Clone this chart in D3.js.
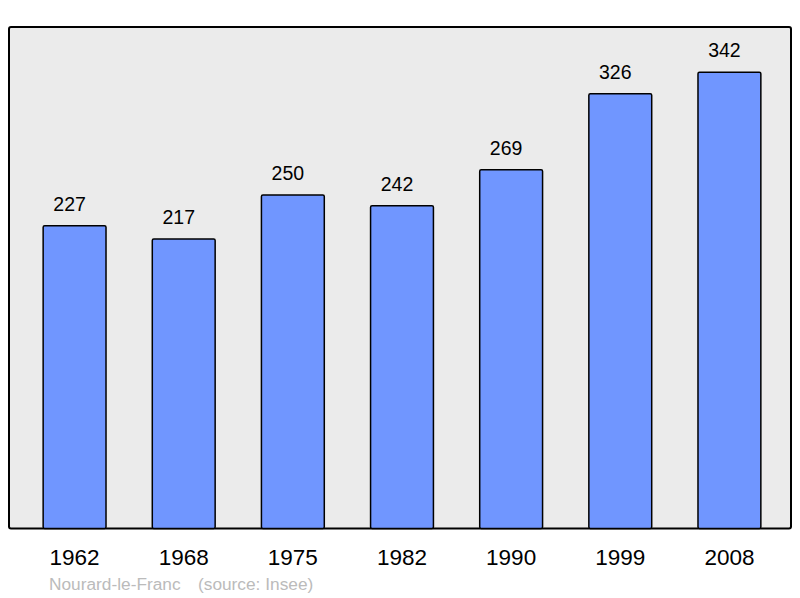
<!DOCTYPE html>
<html>
<head>
<meta charset="utf-8">
<script src="https://cdn.jsdelivr.net/npm/d3@7"></script>
<style>
  body { margin: 0; background: #fff; }
  text { font-family: "Liberation Sans", Arial, sans-serif; }
</style>
</head>
<body>
<div id="container"></div>
<script>
// population by census year
let years = ['1962', '1968', '1975', '1982', '1990', '1999', '2008'];
let population = [227, 217, 250, 242, 269, 326, 342];
let commune = 'Nourard-le-Franc';
let source = '(source: Insee)';

let width = 800;
let height = 598;

let data = years.map((y, i) => ({ year: y, value: population[i] }));

const svg = d3
  .select('#container')
  .append('svg')
  .attr('width', width)
  .attr('height', height);

// frame
svg
  .append('rect')
  .attr('x', 9)
  .attr('y', 27)
  .attr('width', 782)
  .attr('height', 501.5)
  .attr('rx', 2)
  .attr('fill', '#ebebeb')
  .attr('stroke', '#000')
  .attr('stroke-width', 2);

let xScale = d3
  .scaleBand()
  .domain(years)
  .range([11.5, 792.5])
  .paddingInner(0.424)
  .paddingOuter(0.29);

let yScale = d3.scaleLinear().domain([0, 376]).range([528.5, 27]);

// bars
svg
  .selectAll('.bar')
  .data(data)
  .enter()
  .append('rect')
  .attr('class', 'bar')
  .attr('x', d => xScale(d.year))
  .attr('y', d => yScale(d.value))
  .attr('width', xScale.bandwidth())
  .attr('height', d => yScale(0) - yScale(d.value))
  .attr('rx', 1.5)
  .attr('fill', '#7096ff')
  .attr('stroke', '#000')
  .attr('stroke-width', 1.5);

// value labels
svg
  .selectAll('.val')
  .data(data)
  .enter()
  .append('text')
  .attr('class', 'val')
  .attr('x', d => xScale(d.year) + xScale.bandwidth() / 2 - 5)
  .attr('y', d => yScale(d.value) - 15)
  .attr('text-anchor', 'middle')
  .attr('font-size', 19.5)
  .attr('fill', '#000')
  .text(d => d.value);

// year labels
svg
  .selectAll('.year')
  .data(data)
  .enter()
  .append('text')
  .attr('class', 'year')
  .attr('x', d => xScale(d.year) + xScale.bandwidth() / 2)
  .attr('y', 565)
  .attr('text-anchor', 'middle')
  .attr('font-size', 22.5)
  .attr('fill', '#000')
  .text(d => d.year);

// footer
svg
  .append('text')
  .attr('x', 49)
  .attr('y', 590)
  .attr('font-size', 17.3)
  .attr('fill', '#bbbbbb')
  .text(commune);

svg
  .append('text')
  .attr('x', 198)
  .attr('y', 590)
  .attr('font-size', 17.3)
  .attr('fill', '#bbbbbb')
  .text(source);
</script>
</body>
</html>
